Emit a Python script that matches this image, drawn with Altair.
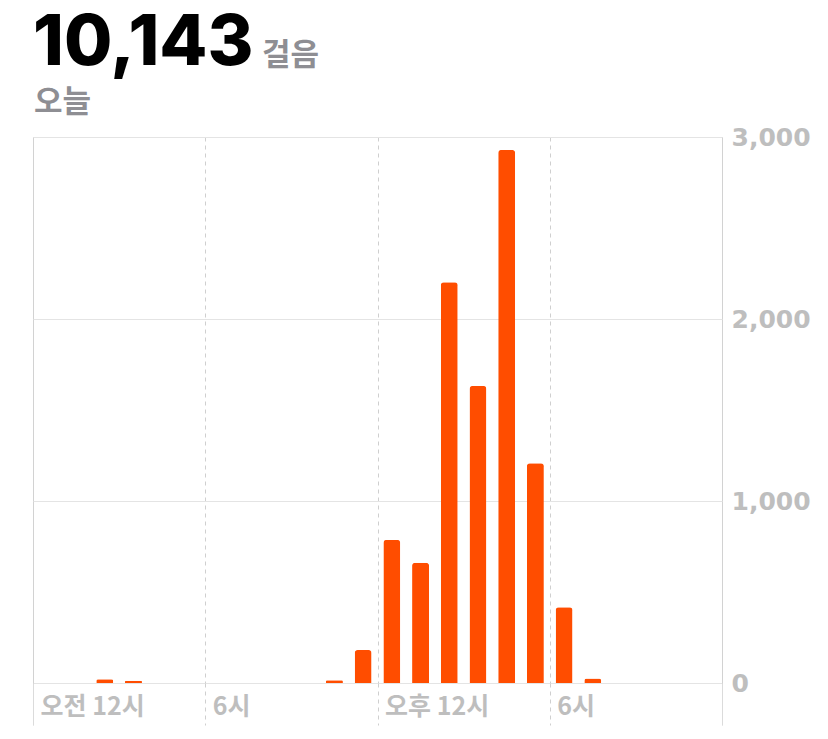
import altair as alt
import pandas as pd

hours = list(range(24))
steps = [0, 0, 20, 12, 0, 0, 0, 0, 0, 0, 15, 181, 786, 661, 2202, 1632, 2929, 1207, 416, 25, 0, 0, 0, 0]
total_text = "10,143"
unit_text = "걸음"
day_text = "오늘"
x_tick_values = [0, 6, 12, 18, 24]
x_tick_labels = ["오전 12시", "6시", "오후 12시", "6시", ""]
y_tick_values = [0, 1000, 2000, 3000]

df = pd.DataFrame({"hour": hours, "steps": steps})
df["mid"] = df["hour"] + 0.5

W, H = 689, 546
GRAY = "#bebebe"
FONT = "Noto Sans CJK KR"

label_expr = " : ".join(
    f"datum.value == {v} ? '{l}'" for v, l in zip(x_tick_values, x_tick_labels)
) + " : ''"

solid_test = "datum.value == 0 || datum.value == 24"

bars = alt.Chart(df).mark_bar(
    size=17, color="#ff4d00", cornerRadiusTopLeft=3, cornerRadiusTopRight=3
).encode(
    x=alt.X(
        "mid:Q",
        scale=alt.Scale(domain=[0, 24], nice=False, zero=False, padding=0),
        axis=alt.Axis(
            values=x_tick_values,
            labelExpr=label_expr,
            title=None,
            domain=False,
            ticks=True,
            tickSize=42,
            tickColor="#cfcfcf",
            tickDash={"condition": {"test": solid_test, "value": [1, 0]}, "value": [4, 4]},
            grid=True,
            gridColor="#cfcfcf",
            gridDash={"condition": {"test": solid_test, "value": [1, 0]}, "value": [4, 4]},
            labelAlign="left",
            labelBaseline="top",
            labelPadding=-31,
            labelFlush=False,
            labelOverlap=False,
            labelOffset=7,
            labelFont=FONT,
            labelFontSize=25,
            labelFontWeight="bold",
            labelColor=GRAY,
        ),
    ),
    y=alt.Y(
        "steps:Q",
        scale=alt.Scale(domain=[0, 3000], nice=False),
        axis=alt.Axis(
            orient="right",
            values=y_tick_values,
            format=",.0f",
            title=None,
            domain=False,
            ticks=False,
            grid=True,
            gridColor="#e4e4e4",
            labelPadding=9,
            labelFont="DejaVu Sans",
            labelFontSize=25,
            labelFontWeight="bold",
            labelColor=GRAY,
            labelBaseline="middle",
        ),
    ),
)

hdr = alt.Data(values=[{"k": 1}])
t_total = alt.Chart(hdr).mark_text(
    text=total_text, font="Inter", fontSize=70, fontWeight=800, color="#000000",
    align="left", baseline="alphabetic"
).encode(x=alt.value(0), y=alt.value(-72))
t_unit = alt.Chart(hdr).mark_text(
    text=unit_text, font=FONT, fontSize=31, fontWeight="bold", color="#8e8e93",
    align="left", baseline="alphabetic"
).encode(x=alt.value(229), y=alt.value(-72))
t_day = alt.Chart(hdr).mark_text(
    text=day_text, font=FONT, fontSize=31, fontWeight="bold", color="#8e8e93",
    align="left", baseline="alphabetic"
).encode(x=alt.value(1), y=alt.value(-25))

chart = alt.layer(bars, t_total, t_unit, t_day).properties(
    width=W, height=H,
    autosize=alt.AutoSizeParams(type="none"),
    padding={"left": 25, "top": 129, "right": 90, "bottom": 45},
).configure_view(stroke="#dcdcdc", strokeWidth=1).configure(background="white")

chart.save("out.html", embed_options={"renderer": "svg", "actions": False})
